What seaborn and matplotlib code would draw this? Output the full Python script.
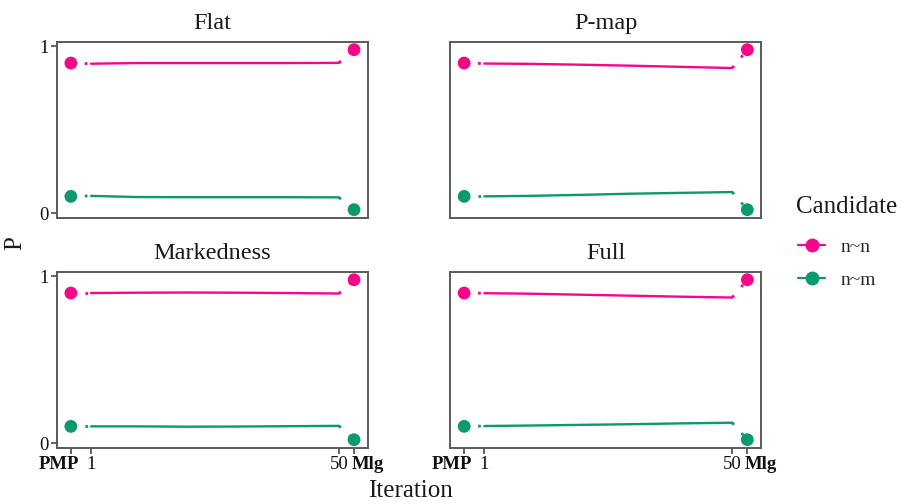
import matplotlib
matplotlib.use("Agg")
import matplotlib.pyplot as plt
from matplotlib.lines import Line2D
import seaborn as sns
import pandas as pd

# ---------------- data ----------------
panels = ["Flat", "P-map", "Markedness", "Full"]
candidates = ["n~n", "n~m"]
iterations = [1, 10, 20, 30, 40, 50]

# values along the iteration axis per panel / candidate
flat_nn = [0.896, 0.900, 0.900, 0.900, 0.900, 0.901]
flat_nm = [0.103, 0.096, 0.095, 0.095, 0.095, 0.094]
pmap_nn = [0.897, 0.895, 0.890, 0.884, 0.877, 0.870]
pmap_nm = [0.100, 0.103, 0.109, 0.116, 0.121, 0.126]
mark_nn = [0.900, 0.902, 0.903, 0.902, 0.900, 0.897]
mark_nm = [0.100, 0.100, 0.098, 0.099, 0.101, 0.103]
full_nn = [0.899, 0.896, 0.890, 0.884, 0.878, 0.873]
full_nm = [0.102, 0.105, 0.109, 0.113, 0.118, 0.122]

# endpoint values (PMP on the left, Mlg on the right)
pmp_nn = [0.90, 0.90, 0.90, 0.90]
pmp_nm = [0.10, 0.10, 0.10, 0.10]
mlg_nn = [0.98, 0.98, 0.98, 0.98]
mlg_nm = [0.02, 0.02, 0.02, 0.02]

x_tick_labels = ["PMP", "1", "50", "Mlg"]
y_tick_labels = ["0", "1"]

# ---------------- layout / style ----------------
PMP_X = -3
MLG_X = 53
colors = {"n~n": "#F7068A", "n~m": "#0A9A6E"}
serif = "Liberation Serif"

series = {
    "Flat": {"n~n": flat_nn, "n~m": flat_nm},
    "P-map": {"n~n": pmap_nn, "n~m": pmap_nm},
    "Markedness": {"n~n": mark_nn, "n~m": mark_nm},
    "Full": {"n~n": full_nn, "n~m": full_nm},
}

rows = []
for p in panels:
    for c in candidates:
        for it, v in zip(iterations, series[p][c]):
            rows.append({"Panel": p, "Candidate": c, "Iteration": it, "P": v})
df = pd.DataFrame(rows)

end_rows = []
for i, p in enumerate(panels):
    end_rows.append({"Panel": p, "Candidate": "n~n", "X": PMP_X, "P": pmp_nn[i]})
    end_rows.append({"Panel": p, "Candidate": "n~m", "X": PMP_X, "P": pmp_nm[i]})
    end_rows.append({"Panel": p, "Candidate": "n~n", "X": MLG_X, "P": mlg_nn[i]})
    end_rows.append({"Panel": p, "Candidate": "n~m", "X": MLG_X, "P": mlg_nm[i]})
ends = pd.DataFrame(end_rows)

sns.set_theme(style="white")
plt.rcParams["font.family"] = [serif, "DejaVu Serif"]

fig = plt.figure(figsize=(9.03, 5.04), dpi=100)
W, H = 903, 504
lefts = [56.7, 450]
tops = [41.7, 271.7]
pw, ph = 311.5, 176

axes = []
for r in range(2):
    for cidx in range(2):
        ax = fig.add_axes([lefts[cidx] / W, 1 - (tops[r] + ph) / H, pw / W, ph / H])
        axes.append((ax, r, cidx))

tick_positions = [PMP_X, 1, 50, MLG_X]
# horizontal nudges (points) for the bold end labels
label_nudge = {"PMP": -8.5, "1": 0, "50": 0, "Mlg": 10}

for (ax, r, cidx), p in zip(axes, panels):
    sub = df[df.Panel == p]
    e = ends[ends.Panel == p]
    # dotted connectors
    for c in candidates:
        s = sub[sub.Candidate == c].sort_values("Iteration")
        ee = e[e.Candidate == c]
        left = ee[ee.X == PMP_X].iloc[0]
        right = ee[ee.X == MLG_X].iloc[0]
        ax.plot([left.X, s.Iteration.iloc[0]], [left.P, s.P.iloc[0]],
                color=colors[c], lw=2.0, linestyle=(0, (1, 4)))
        ax.plot([s.Iteration.iloc[-1], right.X], [s.P.iloc[-1], right.P],
                color=colors[c], lw=2.0, linestyle=(0, (1, 4)))
    sns.lineplot(data=sub, x="Iteration", y="P", hue="Candidate", hue_order=candidates,
                 palette=colors, ax=ax, legend=False, linewidth=1.7)
    sns.scatterplot(data=e, x="X", y="P", hue="Candidate", hue_order=candidates,
                    palette=colors, ax=ax, legend=False, s=85, edgecolor="none", zorder=5)

    ax.set_xlim(-5.8, 55.8)
    ax.set_ylim(-0.028, 1.028)
    ax.set_xlabel("")
    ax.set_ylabel("")
    ax.set_title(p, fontsize=17.5, family=serif, pad=9, color="#1a1a1a")
    for sp in ax.spines.values():
        sp.set_visible(True)
        sp.set_color("#5a5a5a")
        sp.set_linewidth(1.4)

    if r == 1:
        ax.set_xticks(tick_positions)
        ax.set_xticklabels([""] * len(tick_positions))
        for xpos, lab in zip(tick_positions, x_tick_labels):
            ax.annotate(lab, xy=(xpos, 0), xycoords=("data", "axes fraction"),
                        xytext=(label_nudge[lab], -6), textcoords="offset points",
                        ha="center", va="top", fontsize=13.5, family=serif,
                        color="#111111",
                        fontweight="bold" if lab in ("PMP", "Mlg") else "normal")
    else:
        ax.set_xticks([])
    if cidx == 0:
        ax.set_yticks([0, 1])
        ax.set_yticklabels(y_tick_labels)
    else:
        ax.set_yticks([])
    ax.tick_params(axis="both", which="both", length=4, width=1.2, color="#4a4a4a",
                   labelsize=13.5, labelcolor="#111111", pad=2,
                   bottom=(r == 1), left=(cidx == 0))

fig.text(410 / W, 1 - 497 / H, "Iteration", ha="center", va="baseline",
         fontsize=18, family=serif, color="#1a1a1a")
fig.text(15 / W, 1 - 243 / H, "P", ha="center", va="center", rotation=90,
         fontsize=18, family=serif, color="#1a1a1a")

# legend: title drawn as text, entries as a title-less legend
fig.text(796 / W, 1 - 213 / H, "Candidate", ha="left", va="baseline",
         fontsize=18, family=serif, color="#1a1a1a")
handles = [Line2D([0], [0], color=colors[c], marker="o", markersize=9, lw=1.6)
           for c in candidates]
leg = fig.legend(handles, candidates, loc="upper left",
                 bbox_to_anchor=(798 / W, 1 - 238 / H), frameon=False,
                 borderpad=0, borderaxespad=0,
                 prop={"family": serif, "size": 14}, handlelength=1.4,
                 labelspacing=0.8, handletextpad=0.8)

fig.savefig("out.png", dpi=100)
